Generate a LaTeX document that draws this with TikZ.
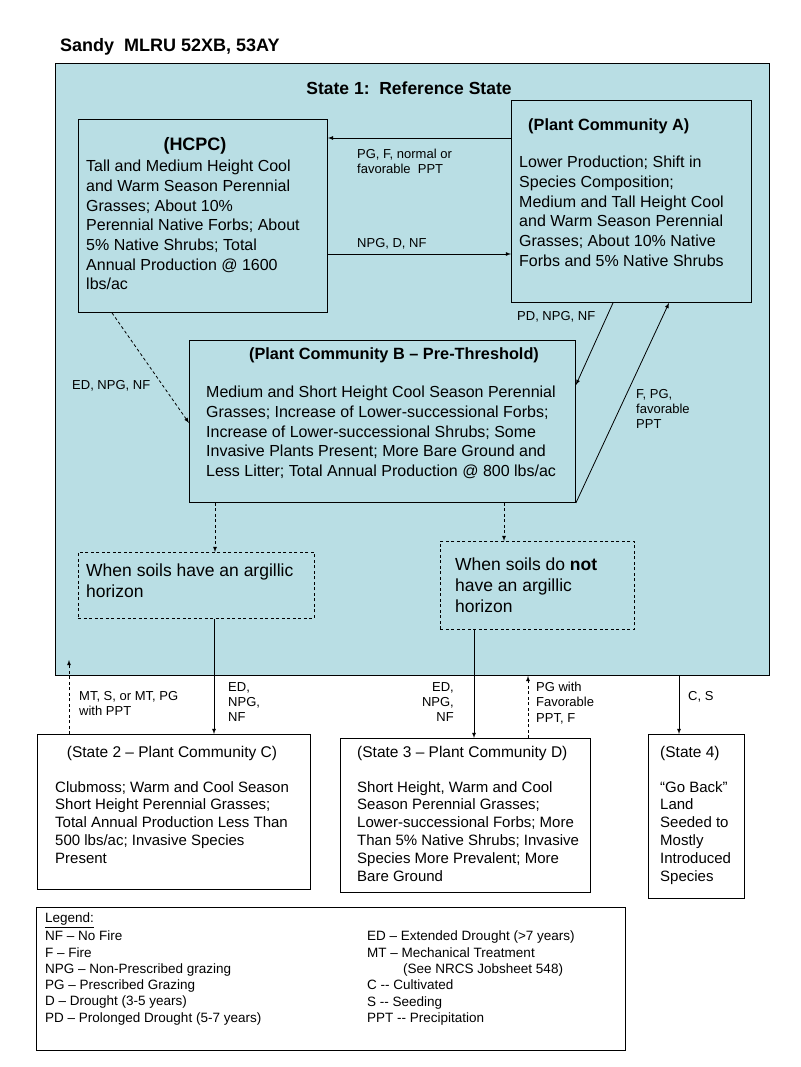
\documentclass[tikz,border=0pt]{standalone}
\usepackage{fontspec}
\setmainfont{Liberation Sans}
\usetikzlibrary{positioning}
\definecolor{stateblue}{RGB}{185,222,228}

\begin{document}
\begin{tikzpicture}[x=1pt,y=-1pt,
  box/.style={draw,line width=0.9pt,anchor=north west,inner sep=0pt},
  dbox/.style={draw,line width=0.8pt,dash pattern=on 3pt off 2.5pt,anchor=north west,inner sep=0pt},
  body/.style={anchor=north west,align=left,inner sep=0pt,font=\fontsize{16}{19.7}\selectfont},
  head/.style={inner sep=0pt,font=\bfseries\fontsize{16.3}{19}\selectfont},
  lbl/.style={anchor=north west,align=left,inner sep=0pt,font=\fontsize{13}{15.3}\selectfont},
  small/.style={anchor=north west,align=left,inner sep=0pt,font=\fontsize{15}{17.9}\selectfont},
  legd/.style={anchor=north west,align=left,inner sep=0pt,font=\fontsize{13.5}{16.3}\selectfont},
  arr/.style={line width=0.8pt,-latex},
  darr/.style={line width=0.8pt,-latex,dash pattern=on 3pt off 2.5pt}]
  \useasboundingbox[fill=white] (0,0) rectangle (800,1067);
  % title and state 1
  \node[anchor=west,inner sep=0pt,font=\bfseries\fontsize{18}{21}\selectfont] (title) at (60,47) {Sandy\ \ MLRU 52XB, 53AY};
  \node[box,fill=stateblue,minimum width=714,minimum height=612] (ref) at (55,63) {};
  \node[head,font=\bfseries\fontsize{17.5}{20}\selectfont] (refhead) at (409,88) {State 1:\ \ Reference State};
  % community boxes
  \node[box,minimum width=249,minimum height=193] (hcpc) at (78,119) {};
  \node[head,font=\bfseries\fontsize{18}{21}\selectfont] (hcpchead) at (195,146) {(HCPC)};
  \node[body] (hcpctxt) at (86,160) {Tall and Medium Height Cool\\and Warm Season Perennial\\Grasses; About 10\%\\Perennial Native Forbs; About\\5\% Native Shrubs; Total\\Annual Production @ 1600\\lbs/ac};
  \node[box,minimum width=240,minimum height=202] (pca) at (511,100) {};
  \node[head,anchor=west] (pcahead) at (528,126) {(Plant Community A)};
  \node[body] (pcatxt) at (519,156) {Lower Production; Shift in\\Species Composition;\\Medium and Tall Height Cool\\and Warm Season Perennial\\Grasses; About 10\% Native\\Forbs and 5\% Native Shrubs};
  \node[box,minimum width=386,minimum height=162] (pcb) at (189,340) {};
  \node[head] (pcbhead) at (394,355) {(Plant Community B -- Pre-Threshold)};
  \node[body] (pcbtxt) at (206,386) {Medium and Short Height Cool Season Perennial\\Grasses; Increase of Lower-successional Forbs;\\Increase of Lower-successional Shrubs; Some\\Invasive Plants Present; More Bare Ground and\\Less Litter; Total Annual Production @ 800 lbs/ac};
  % soil boxes
  \node[dbox,minimum width=236,minimum height=66] (argl) at (78,552) {};
  \node[body,font=\fontsize{17.5}{21}\selectfont] (argltxt) at (86,564) {When soils have an argillic\\horizon};
  \node[dbox,minimum width=194,minimum height=88] (argr) at (440,541) {};
  \node[body,font=\fontsize{17.5}{21}\selectfont] (argrtxt) at (455,558) {When soils do \textbf{not}\\have an argillic\\horizon};
  % lower states
  \node[box,minimum width=273,minimum height=155] (st2) at (37,734) {};
  \node[inner sep=0pt,font=\fontsize{15.5}{18}\selectfont] (st2head) at (172,753) {(State 2 -- Plant Community C)};
  \node[small] (st2txt) at (55,781) {Clubmoss; Warm and Cool Season\\Short Height Perennial Grasses;\\Total Annual Production Less Than\\500 lbs/ac; Invasive Species\\Present};
  \node[box,minimum width=250,minimum height=154] (st3) at (340,738) {};
  \node[anchor=west,inner sep=0pt,font=\fontsize{15.5}{18}\selectfont] (st3head) at (357,753) {(State 3 -- Plant Community D)};
  \node[small] (st3txt) at (357,781) {Short Height, Warm and Cool\\Season Perennial Grasses;\\Lower-successional Forbs; More\\Than 5\% Native Shrubs; Invasive\\Species More Prevalent; More\\Bare Ground};
  \node[box,minimum width=96,minimum height=164] (st4) at (648,734) {};
  \node[anchor=west,inner sep=0pt,font=\fontsize{15.5}{18}\selectfont] (st4head) at (660,753) {(State 4)};
  \node[small] (st4txt) at (660,781) {``Go Back''\\Land\\Seeded to\\Mostly\\Introduced\\Species};
  % legend
  \node[box,minimum width=589,minimum height=143] (leg) at (36,907) {};
  \node[legd] (legl) at (45,913) {\underline{Legend:}\\[1.5pt]NF -- No Fire\\F -- Fire\\NPG -- Non-Prescribed grazing\\PG -- Prescribed Grazing\\D -- Drought (3-5 years)\\PD -- Prolonged Drought (5-7 years)};
  \node[legd] (legr) at (367,931) {ED -- Extended Drought (>7 years)\\MT -- Mechanical Treatment\\\hspace{36pt}(See NRCS Jobsheet 548)\\C -{}- Cultivated\\S -{}- Seeding\\PPT -{}- Precipitation};
  % transitions
  \draw[arr] (pca.west |- 0,138) -- (hcpc.east |- 0,138);
  \node[lbl] (l1) at (357,149) {PG, F, normal or\\favorable\ \ PPT};
  \draw[arr] (hcpc.east |- 0,254) -- (pca.west |- 0,254);
  \node[lbl] (l2) at (357,238) {NPG, D, NF};
  \draw[arr] (pca.south -| 613,0) -- (pcb.east |- 0,385);
  \node[lbl] (l3) at (517,311) {PD, NPG, NF};
  \draw[arr] (pcb.south east) -- (pca.south -| 669,0);
  \node[lbl] (l4) at (636,389) {F, PG,\\favorable\\PPT};
  \draw[darr] (hcpc.south -| 112,0) -- (pcb.west |- 0,423);
  \node[lbl] (l5) at (72,380) {ED, NPG, NF};
  \draw[darr] (pcb.south -| 215,0) -- (argl.north -| 215,0);
  \draw[darr] (pcb.south -| 504,0) -- (argr.north -| 504,0);
  \draw[arr] (argl.south -| 214,0) -- (st2.north -| 214,0);
  \node[lbl] (l6) at (228,682) {ED,\\NPG,\\NF};
  \draw[arr] (argr.south -| 474,0) -- (st3.north -| 474,0);
  \node[lbl,anchor=north east,align=right] (l7) at (454,682) {ED,\\NPG,\\NF};
  \coordinate (back2) at (69,660);
  \draw[darr] (st2.north -| back2) -- (back2);
  \node[lbl] (l8) at (79,691) {MT, S, or MT, PG\\with PPT};
  \draw[darr] (st3.north -| 528,0) -- (ref.south -| 528,0);
  \node[lbl] (l9) at (536,682) {PG with\\Favorable\\PPT, F};
  \draw[arr] (ref.south -| 679,0) -- (st4.north -| 679,0);
  \node[lbl] (l10) at (688,691) {C, S};
\end{tikzpicture}
\end{document}
